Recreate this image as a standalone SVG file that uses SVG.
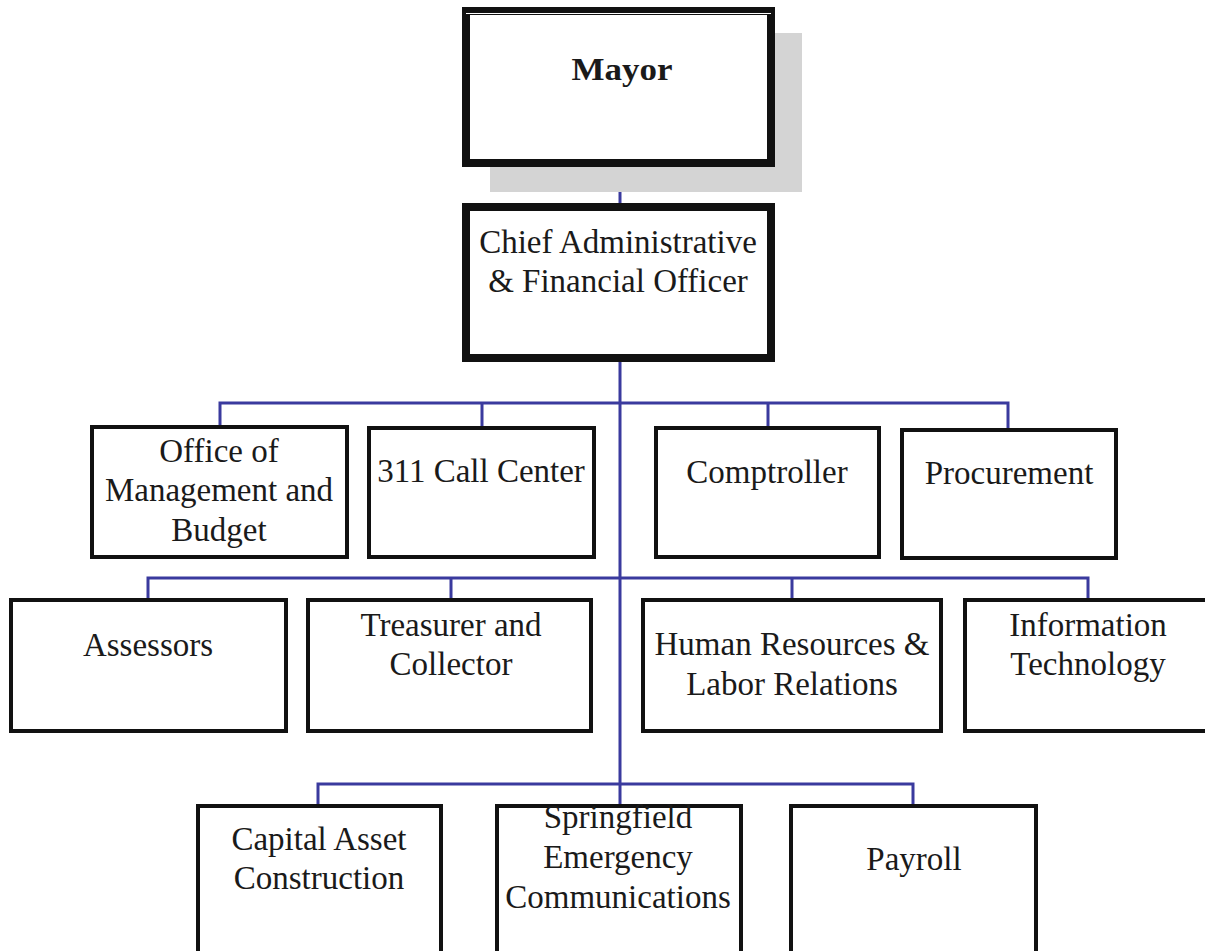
<svg xmlns="http://www.w3.org/2000/svg" width="1205" height="951" viewBox="0 0 1205 951">
<style>
.box{fill:#fff;stroke:#111;stroke-width:4}
.big{fill:#fff;stroke:#111;stroke-width:8}
.t{font-family:"Liberation Serif","Times New Roman",serif;font-size:33px;fill:#1a1a1a;text-anchor:middle}
.tb{font-family:"Liberation Serif","Times New Roman",serif;font-size:31px;font-weight:bold;fill:#1a1a1a;text-anchor:middle}
.c{fill:none;stroke:#3a3a9e;stroke-width:3}
</style>
<rect width="1205" height="951" fill="#fff"/>
<g id="connectors">
<path class="c" d="M620,167V205"/>
<path class="c" d="M620,362V806"/>
<path class="c" d="M220,426V403H1008V430M482,403V428M768,403V428"/>
<path class="c" d="M148,600V578H1088V600M451,578V600M792,578V600"/>
<path class="c" d="M318,806V784H913V806"/>
</g>
<g id="mayor">
<rect x="490" y="33" width="312" height="159" fill="#d4d4d4"/>
<rect class="big" x="466" y="11" width="305" height="152"/>
<line x1="466" y1="13.5" x2="771" y2="13.5" stroke="#fff" stroke-width="1"/>
<text class="tb" x="622" y="80" textLength="101" lengthAdjust="spacingAndGlyphs">Mayor</text>
</g>
<g id="cafo">
<rect class="big" x="466" y="207" width="305" height="151"/>
<text class="t" x="618" y="253">Chief Administrative</text>
<text class="t" x="618" y="292">&amp; Financial Officer</text>
</g>
<g id="omb">
<rect class="box" x="92" y="427" width="255" height="130"/>
<text class="t" x="219" y="462">Office of</text>
<text class="t" x="219" y="501">Management and</text>
<text class="t" x="219" y="541">Budget</text>
</g>
<g id="call311">
<rect class="box" x="369" y="428" width="225" height="129"/>
<text class="t" x="481" y="482">311 Call Center</text>
</g>
<g id="comptroller">
<rect class="box" x="656" y="428" width="223" height="129"/>
<text class="t" x="767" y="483">Comptroller</text>
</g>
<g id="procurement">
<rect class="box" x="902" y="430" width="214" height="128"/>
<text class="t" x="1009" y="484">Procurement</text>
</g>
<g id="assessors">
<rect class="box" x="11" y="600" width="275" height="131"/>
<text class="t" x="148" y="656">Assessors</text>
</g>
<g id="treasurer">
<rect class="box" x="308" y="600" width="283" height="131"/>
<text class="t" x="451" y="636">Treasurer and</text>
<text class="t" x="451" y="675">Collector</text>
</g>
<g id="hr">
<rect class="box" x="643" y="600" width="298" height="131"/>
<text class="t" x="792" y="655">Human Resources &amp;</text>
<text class="t" x="792" y="695">Labor Relations</text>
</g>
<g id="it">
<rect class="box" x="965" y="600" width="260" height="131"/>
<text class="t" x="1088" y="636">Information</text>
<text class="t" x="1088" y="675">Technology</text>
</g>
<g id="capital">
<rect class="box" x="198" y="806" width="243" height="170"/>
<text class="t" x="319" y="850">Capital Asset</text>
<text class="t" x="319" y="889">Construction</text>
</g>
<g id="springfield">
<rect class="box" x="497" y="806" width="244" height="170"/>
<text class="t" x="618" y="828">Springfield</text>
<text class="t" x="618" y="868">Emergency</text>
<text class="t" x="618" y="908">Communications</text>
</g>
<g id="payroll">
<rect class="box" x="791" y="806" width="245" height="170"/>
<text class="t" x="914" y="870">Payroll</text>
</g>
</svg>
